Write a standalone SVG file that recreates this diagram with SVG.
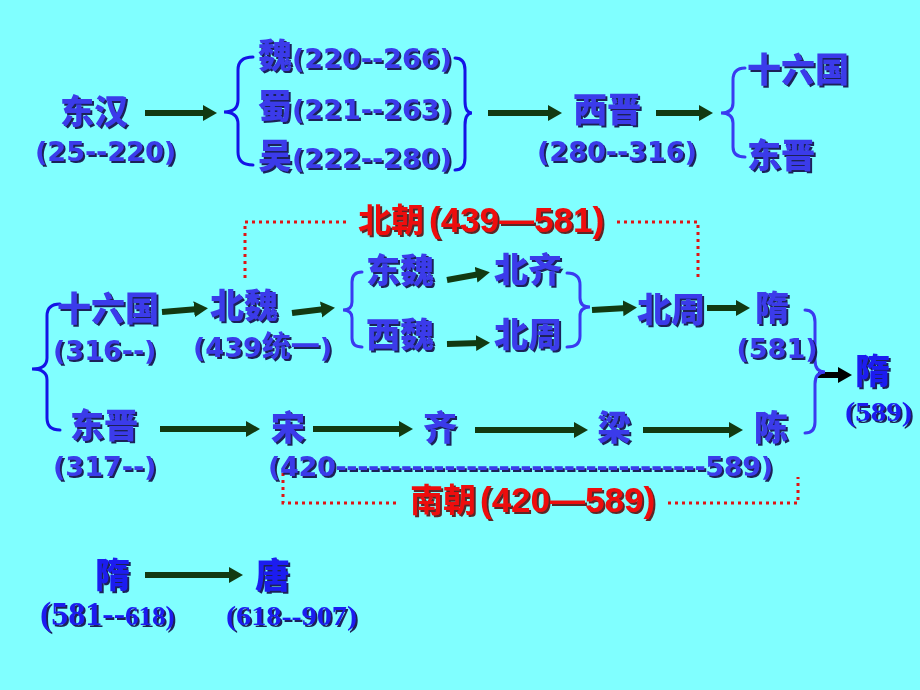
<svg xmlns="http://www.w3.org/2000/svg" width="920" height="690" viewBox="0 0 920 690">
<defs>
<filter id="sh" x="-10%" y="-20%" width="130%" height="150%">
<feDropShadow dx="2" dy="2" stdDeviation="0.3" flood-color="#161650" flood-opacity="0.95"/>
</filter>
<filter id="shr" x="-10%" y="-20%" width="130%" height="150%">
<feDropShadow dx="2" dy="2" stdDeviation="0.3" flood-color="#5a0a0a" flood-opacity="0.9"/>
</filter>
<marker id="ah" markerUnits="userSpaceOnUse" markerWidth="16" markerHeight="18" refX="4" refY="8" orient="auto">
<path d="M0,0 L14,8 L0,16 z" fill="#123a12"/>
</marker>
<marker id="ahk" markerUnits="userSpaceOnUse" markerWidth="16" markerHeight="18" refX="4" refY="8" orient="auto">
<path d="M0,0 L14,8 L0,16 z" fill="#000"/>
</marker>
<style>
.cn{font-family:"Noto Sans CJK SC",sans-serif;font-weight:900;font-size:34px;fill:#3a3aea;filter:url(#sh)}
.num{font-family:"DejaVu Sans","Noto Sans CJK SC",sans-serif;font-weight:700;font-size:27px;fill:#3a3aea;filter:url(#sh)}
.red{font-family:"Liberation Sans","Noto Sans CJK SC",sans-serif;font-weight:700;font-size:33px;fill:#ee1111;filter:url(#shr)}
.ser{font-family:"Liberation Serif","Noto Sans CJK SC",serif;font-weight:700;fill:#1c1cf0;filter:url(#sh)}
.big{font-family:"Noto Sans CJK SC",sans-serif;font-weight:900;font-size:35px;fill:#1c1cf0;filter:url(#sh)}
.arr{stroke:#123a12;stroke-width:6;fill:none;marker-end:url(#ah)}
.arrk{stroke:#000;stroke-width:6;fill:none;marker-end:url(#ahk)}
.br{stroke:#1414e6;stroke-width:3;fill:none;stroke-linecap:round}
.br2{stroke:#3a3af0;stroke-width:3;fill:none;stroke-linecap:round}
.dot{stroke:#e01414;stroke-width:3;fill:none;stroke-dasharray:3 4}
</style>
</defs>
<rect width="920" height="690" fill="#80ffff"/>

<g id="connectors">
<line class="arr" x1="145" y1="113" x2="207" y2="113"/>
<line class="arr" x1="488" y1="113" x2="552" y2="113"/>
<line class="arr" x1="656" y1="113" x2="703" y2="113"/>
<line class="arr" x1="162" y1="312" x2="198" y2="309"/>
<line class="arr" x1="292" y1="313" x2="325" y2="309"/>
<line class="arr" x1="447" y1="280" x2="480" y2="274"/>
<line class="arr" x1="447" y1="344" x2="480" y2="343"/>
<line class="arr" x1="592" y1="310" x2="627" y2="308"/>
<line class="arr" x1="707" y1="308" x2="740" y2="308"/>
<line class="arrk" x1="818" y1="375" x2="842" y2="375"/>
<line class="arr" x1="160" y1="429" x2="250" y2="429"/>
<line class="arr" x1="313" y1="429" x2="403" y2="429"/>
<line class="arr" x1="475" y1="430" x2="578" y2="430"/>
<line class="arr" x1="643" y1="430" x2="733" y2="430"/>
<line class="arr" x1="145" y1="575" x2="233" y2="575"/>
<path class="br" d="M253,57 Q238,57 238,70 L238,100 Q238,112 224,112 Q238,112 238,124 L238,152 Q238,165 253,165"/>
<path class="br" d="M455,58 Q465,58 465,70 L465,101 Q465,113 472,113 Q465,113 465,125 L465,158 Q465,170 455,170"/>
<path class="br2" d="M745,68 Q733,68 733,80 L733,103 Q733,113 721,113 Q733,113 733,123 L733,147 Q733,157 745,157"/>
<path class="br2" d="M362,272 Q352,272 352,282 L352,302 Q352,310 343,310 Q352,310 352,318 L352,338 Q352,347 362,347"/>
<path class="br2" d="M567,273 Q580,273 580,285 L580,298 Q580,307 590,307 Q580,307 580,316 L580,336 Q580,347 567,347"/>
<path class="br2" d="M805,310 Q815,310 815,322 L815,360 Q815,372 825,372 Q815,372 815,384 L815,422 Q815,433 805,433"/>
<path class="br" d="M60,304 Q47,304 47,316 L47,358 Q47,369 32,369 Q47,369 47,380 L47,418 Q47,430 60,430"/>
<path class="dot" d="M245,278 L245,222 L350,222"/>
<path class="dot" d="M617,222 L698,222 L698,280"/>
<path class="dot" d="M283,473 L283,503 L398,503"/>
<path class="dot" d="M668,503 L798,503 L798,477"/>
</g>

<g id="donghan"><text class="cn" x="60" y="124">东汉</text><text class="num" x="35" y="161">(25--220)</text></g>
<g id="wei"><text class="num" x="258" y="68"><tspan class="cn" style="filter:none">魏</tspan>(220--266)</text></g>
<g id="shu"><text class="num" x="258" y="119"><tspan class="cn" style="filter:none">蜀</tspan>(221--263)</text></g>
<g id="wu"><text class="num" x="258" y="168"><tspan class="cn" style="filter:none">吴</tspan>(222--280)</text></g>
<g id="xijin"><text class="cn" x="573" y="122">西晋</text><text class="num" x="537" y="161">(280--316)</text></g>
<g id="shiliuguo-top"><text class="cn" x="747" y="82">十六国</text></g>
<g id="dongjin-top"><text class="cn" x="747" y="168">东晋</text></g>

<g id="beichao"><text class="red" x="358" y="232">北朝<tspan dx="5" font-size="35">(439—581)</tspan></text></g>
<g id="shiliuguo"><text class="cn" x="57" y="321">十六国</text><text class="num" x="53" y="360">(316--)</text></g>
<g id="beiwei"><text class="cn" x="210" y="318">北魏</text><text class="num" x="193" y="357">(439<tspan style="font-size:29px">统一</tspan>)</text></g>
<g id="dongwei"><text class="cn" x="366" y="283">东魏</text></g>
<g id="xiwei"><text class="cn" x="366" y="347">西魏</text></g>
<g id="beiqi"><text class="cn" x="494" y="282">北齐</text></g>
<g id="beizhou1"><text class="cn" x="494" y="347">北周</text></g>
<g id="beizhou"><text class="cn" x="637" y="322">北周</text></g>
<g id="sui581"><text class="cn" x="755" y="320">隋</text><text class="num" x="777" y="358" text-anchor="middle">(581)</text></g>
<g id="sui589"><text class="big" x="855" y="384">隋</text><text class="ser" x="845" y="421" font-size="28" textLength="67" lengthAdjust="spacingAndGlyphs">(589)</text></g>

<g id="dongjin"><text class="cn" x="70" y="438">东晋</text><text class="num" x="53" y="476">(317--)</text></g>
<g id="song"><text class="cn" x="271" y="440">宋</text></g>
<g id="qi"><text class="cn" x="423" y="440">齐</text></g>
<g id="liang"><text class="cn" x="597" y="440">梁</text></g>
<g id="chen"><text class="cn" x="754" y="440">陈</text></g>
<g id="nanchao-span"><text class="num" x="268" y="476" textLength="505" lengthAdjust="spacing">(420----------------------------------589)</text></g>
<g id="nanchao"><text class="red" x="410" y="512">南朝<tspan dx="4" font-size="35">(420—589)</tspan></text></g>

<g id="sui"><text class="big" x="95" y="588">隋</text><text class="ser" x="40" y="625"><tspan font-size="34">(581--</tspan><tspan font-size="27">618)</tspan></text></g>
<g id="tang"><text class="big" x="255" y="588">唐</text><text class="ser" x="226" y="625" font-size="28" textLength="131" lengthAdjust="spacingAndGlyphs">(618--907)</text></g>
</svg>
